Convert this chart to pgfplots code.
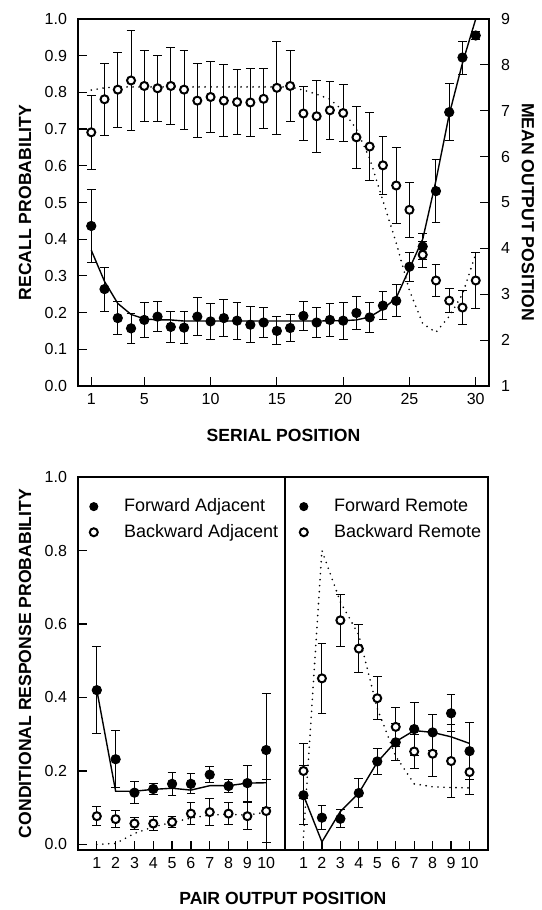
\documentclass[border=0pt]{standalone}
\usepackage{fontspec}
\setmainfont{Liberation Sans}
\usepackage{pgfplots}
\usepackage{pgfplotstable}
\pgfplotsset{compat=1.18}

% serial position: recall probability (observed, model)
\pgfplotstableread{
x y e
1 0.436 0.100
2 0.264 0.060
3 0.185 0.044
4 0.157 0.040
5 0.180 0.047
6 0.189 0.041
7 0.161 0.042
8 0.159 0.043
9 0.189 0.051
10 0.176 0.050
11 0.185 0.051
12 0.178 0.050
13 0.167 0.049
14 0.173 0.040
15 0.150 0.038
16 0.158 0.036
17 0.191 0.040
18 0.173 0.040
19 0.180 0.045
20 0.178 0.050
21 0.199 0.044
22 0.187 0.041
23 0.219 0.039
24 0.232 0.044
25 0.325 0.040
26 0.380 0.035
27 0.531 0.085
28 0.746 0.078
29 0.895 0.045
30 0.955 0.012
}\recallobs
\pgfplotstableread{
x y
1 0.370
2 0.285
3 0.225
4 0.195
5 0.183
6 0.180
7 0.180
8 0.177
10 0.177
12 0.177
14 0.177
16 0.177
18 0.177
20 0.178
21 0.180
22 0.188
23 0.210
24 0.240
25 0.320
26 0.400
27 0.560
28 0.740
29 0.880
30 1.000
}\recallfit
% mean output position (observed, model)
\pgfplotstableread{
x y e
1 6.53 0.80
2 7.25 0.78
3 7.46 0.82
4 7.66 1.08
5 7.54 0.78
6 7.49 0.72
7 7.54 0.84
8 7.46 0.86
9 7.22 0.81
10 7.30 0.78
11 7.22 0.79
12 7.19 0.71
13 7.18 0.74
14 7.26 0.65
15 7.50 1.02
16 7.54 0.78
17 6.94 0.59
18 6.88 0.78
19 7.01 0.63
20 6.95 0.63
21 6.42 0.67
22 6.22 0.75
23 5.81 0.63
24 5.37 0.82
25 4.84 0.60
26 3.86 0.28
27 3.30 0.35
28 2.86 0.26
29 2.71 0.37
30 3.30 0.60
}\outobs
\pgfplotstableread{
x y
1 7.45
2 7.50
3 7.52
16 7.52
17 7.45
18 7.36
19 7.25
20 7.00
21 6.60
22 5.96
23 5.04
24 4.12
25 3.08
26 2.36
27 2.17
28 2.52
29 3.00
30 3.88
}\outfit
% pair output position: adjacent
\pgfplotstableread{
x y e
1 0.420 0.118
2 0.232 0.077
3 0.141 0.030
4 0.151 0.014
5 0.165 0.032
6 0.165 0.027
7 0.190 0.022
8 0.159 0.018
9 0.167 0.049
10 0.257 0.155
}\fwdadj
\pgfplotstableread{
x y
1 0.420
2 0.145
3 0.145
4 0.150
5 0.153
6 0.148
7 0.160
8 0.160
9 0.167
10 0.168
}\fwdadjfit
\pgfplotstableread{
x y e
1 0.077 0.026
2 0.069 0.024
3 0.057 0.016
4 0.057 0.018
5 0.061 0.016
6 0.084 0.030
7 0.088 0.036
8 0.084 0.029
9 0.077 0.037
10 0.091 0.085
}\bwdadj
\pgfplotstableread{
x y
1 0.000
2 0.003
3 0.030
4 0.048
5 0.060
6 0.072
7 0.080
8 0.082
9 0.080
10 0.088
}\bwdadjfit
% pair output position: remote
\pgfplotstableread{
x y e
1 0.134 0.080
2 0.073 0.033
3 0.070 0.024
4 0.140 0.040
5 0.226 0.035
6 0.278 0.050
7 0.314 0.072
8 0.305 0.050
9 0.357 0.050
10 0.254 0.077
}\fwdrem
\pgfplotstableread{
x y
1 0.134
2 0.007
3 0.090
4 0.140
5 0.224
6 0.280
7 0.310
8 0.305
9 0.293
10 0.275
}\fwdremfit
\pgfplotstableread{
x y e
1 0.200 0.075
2 0.452 0.095
3 0.610 0.070
4 0.533 0.065
5 0.398 0.058
6 0.320 0.053
7 0.253 0.045
8 0.247 0.062
9 0.227 0.100
10 0.197 0.062
}\bwdrem
\pgfplotstableread{
x y
1 0.020
2 0.800
3 0.660
4 0.570
5 0.370
6 0.240
7 0.165
8 0.157
9 0.155
10 0.154
}\bwdremfit

\pgfplotsset{
  panel/.style={
    scale only axis, anchor=south west,
    axis line style={line width=0.8pt},
    tick align=inside, major tick length=4.5pt,
    every tick/.style={black, line width=0.6pt},
    /pgf/number format/assume math mode=true,
    tick label style={font=\fontsize{8}{9}\selectfont},
    label style={font=\fontsize{8.8}{10}\selectfont\bfseries},
    clip=false,
  },
  obsfill/.style={only marks, mark=*, mark size=2.3pt,
    mark options={fill=black, draw=black, line width=0.5pt},
    error bars/y dir=both, error bars/y explicit,
    error bars/error bar style={line width=0.5pt, black},
    error bars/error mark options={rotate=90, line width=0.5pt, mark size=2.2pt, black}},
  obsopen/.style={only marks, mark=*, mark size=2.0pt,
    mark options={fill=white, draw=black, line width=1pt},
    error bars/y dir=both, error bars/y explicit,
    error bars/error bar style={line width=0.5pt, black},
    error bars/error mark options={rotate=90, line width=0.5pt, mark size=2.2pt, black}},
  fit/.style={black, line width=0.7pt, no markers},
  fitdot/.style={black, line width=0.9pt, line cap=round, dash pattern=on 0pt off 3pt, no markers},
  leg/.style={
    legend style={at={(rel axis cs:0,1)}, anchor=north west, xshift=#1, yshift=-9.6pt,
      draw=none, fill=none, inner sep=0pt, row sep=2.8pt,
      font=\fontsize{9}{10}\selectfont, nodes={inner sep=1pt}},
    legend cell align=left,
    legend image code/.code={\draw[##1, mark size=2pt] plot coordinates {(0pt,0pt)}; \path (-3pt,-2pt) (14pt,2pt);},
  },
}

\begin{document}
\begin{tikzpicture}
\useasboundingbox (0,0) rectangle (270.5pt,455pt);

% ---- serial position curve ----
\begin{axis}[panel,
  at={(39pt,262pt)}, width=205.5pt, height=183.5pt,
  xmin=0, xmax=31, ymin=0, ymax=1,
  xtick={1,5,10,15,20,25,30}, ytick={0,0.1,...,1.0},
  xtick pos=bottom, ytick pos=left,
  yticklabel={\pgfmathprintnumber[fixed,fixed zerofill,precision=1]{\tick}},
  yticklabel style={xshift=-2pt},
  xlabel={SERIAL POSITION}, ylabel={RECALL PROBABILITY},
  xlabel style={at={(axis description cs:0.5,-0.134)}, anchor=center},
  ylabel style={at={(axis description cs:-0.129,0.5)}, anchor=center},
]
\addplot[fit] table[x=x, y=y] {\recallfit};
\addplot[obsfill] table[x=x, y=y, y error=e] {\recallobs};
\end{axis}

\begin{axis}[panel,
  at={(39pt,262pt)}, width=205.5pt, height=183.5pt,
  xmin=0, xmax=31, ymin=1, ymax=9,
  axis x line=none, axis y line*=right,
  ytick={1,2,...,9},
  yticklabel style={xshift=2.5pt},
  ylabel={MEAN OUTPUT POSITION},
  every axis y label/.style={at={(axis description cs:1.095,0.474)}, anchor=center, rotate=-90,
    font=\fontsize{8.8}{10}\selectfont\bfseries},
]
\addplot[fitdot] table[x=x, y=y] {\outfit};
\addplot[obsopen] table[x=x, y=y, y error=e] {\outobs};
\end{axis}

% ---- adjacent transitions ----
\begin{axis}[panel, leg=4.5pt,
  at={(39pt,30pt)}, width=103.5pt, height=186.5pt,
  xmin=0, xmax=11, ymin=-0.015, ymax=1,
  xtick={1,...,10}, ytick={0,0.2,...,1.0},
  xtick pos=bottom, ytick pos=left,
  yticklabel={\pgfmathprintnumber[fixed,fixed zerofill,precision=1]{\tick}},
  yticklabel style={xshift=-2pt},
  xlabel={PAIR OUTPUT POSITION}, ylabel={CONDITIONAL RESPONSE PROBABILITY},
  xlabel style={at={(axis description cs:0.99,-0.129)}, anchor=center},
  ylabel style={at={(axis description cs:-0.256,0.5)}, anchor=center},
]
\addplot[fit, forget plot] table[x=x, y=y] {\fwdadjfit};
\addplot[fitdot, forget plot] table[x=x, y=y] {\bwdadjfit};
\addplot[obsfill] table[x=x, y=y, y error=e] {\fwdadj};
\addplot[obsopen] table[x=x, y=y, y error=e] {\bwdadj};
\legend{Forward Adjacent, Backward Adjacent}
\end{axis}

% ---- remote transitions ----
\begin{axis}[panel, leg=6pt,
  at={(142.5pt,30pt)}, width=101.5pt, height=186.5pt,
  xmin=0, xmax=11, ymin=-0.015, ymax=1,
  xtick={1,...,10}, ytick=\empty,
  xtick pos=bottom,
]
\addplot[fit, forget plot] table[x=x, y=y] {\fwdremfit};
\addplot[fitdot, forget plot] table[x=x, y=y] {\bwdremfit};
\addplot[obsfill] table[x=x, y=y, y error=e] {\fwdrem};
\addplot[obsopen] table[x=x, y=y, y error=e] {\bwdrem};
\legend{Forward Remote, Backward Remote}
\end{axis}
\end{tikzpicture}
\end{document}
